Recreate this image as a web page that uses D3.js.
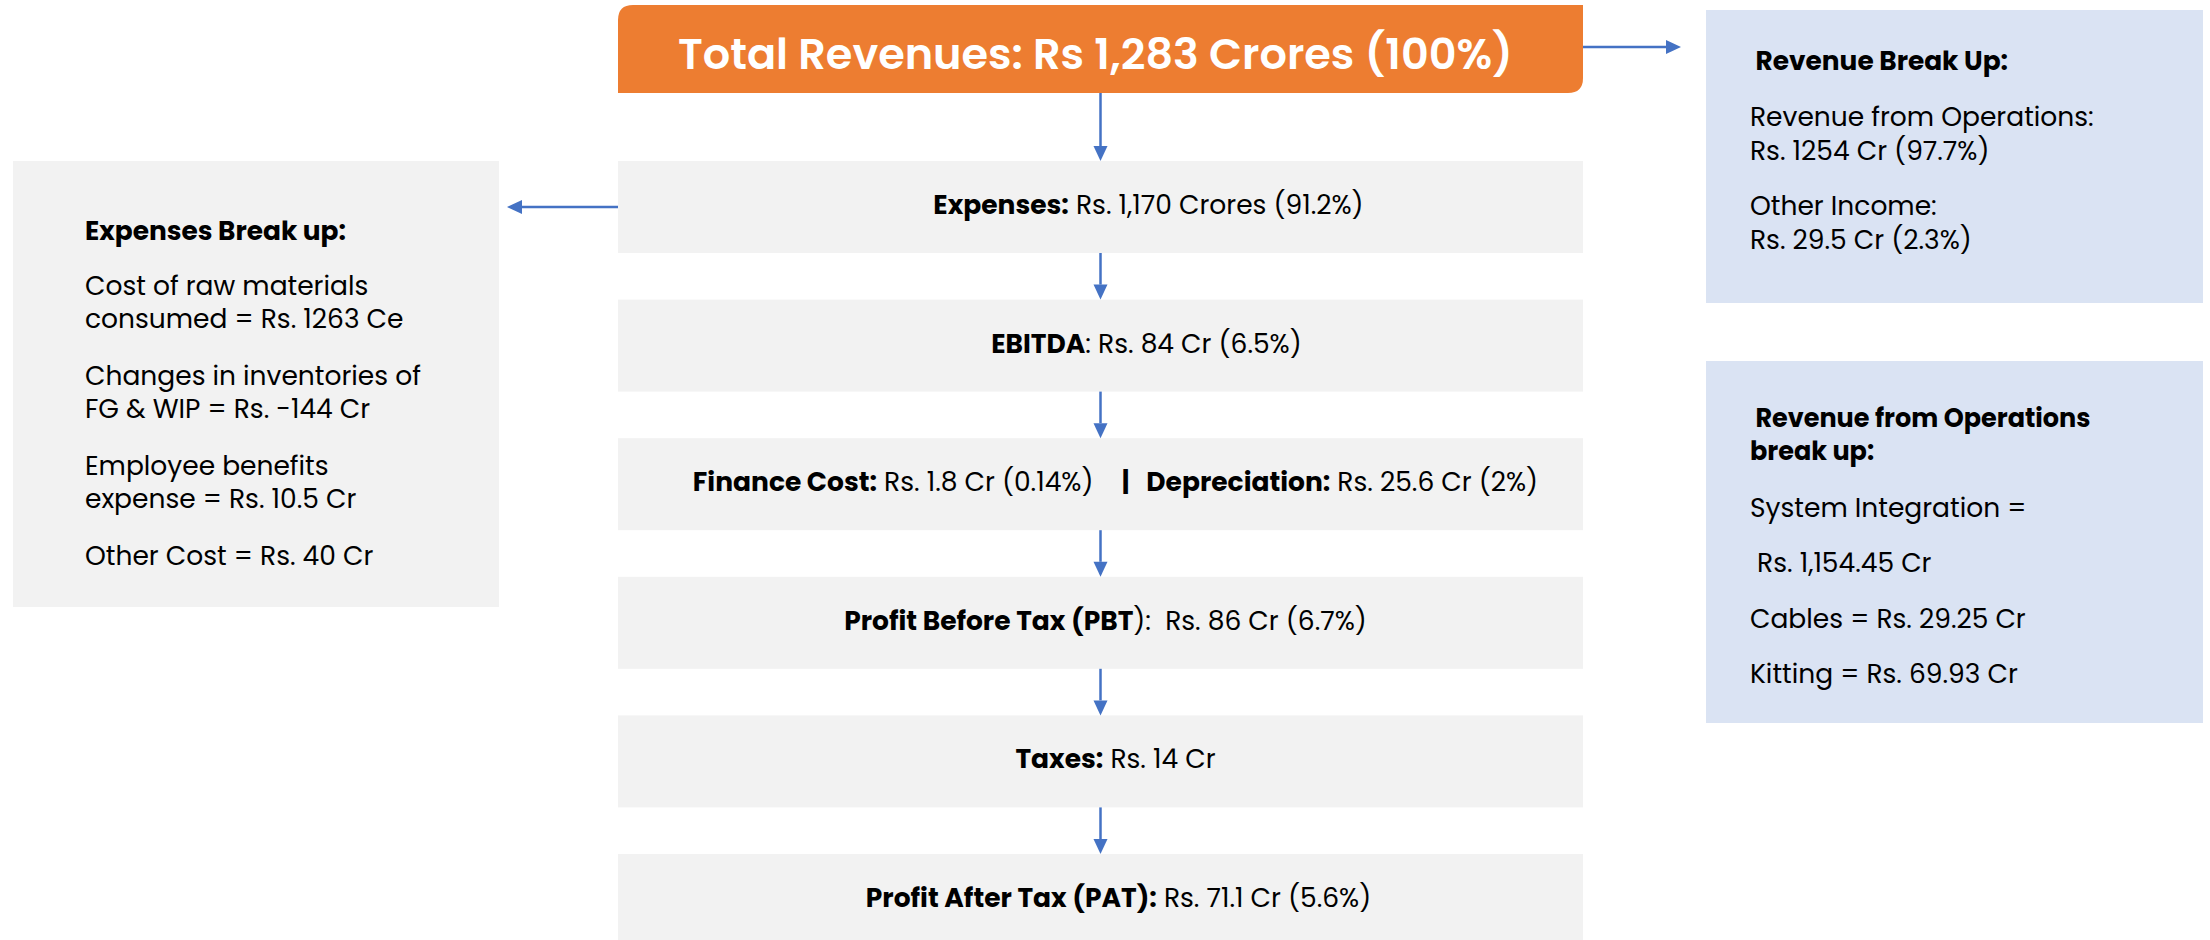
<!DOCTYPE html>
<html>
<head>
<meta charset="utf-8">
<script src="https://cdn.jsdelivr.net/npm/d3@7"></script>
<style>
  body { margin: 0; background: #fff; }
  text { font-family: Poppins, 'Open Sans', sans-serif; white-space: pre; }
</style>
</head>
<body>
<svg id="chart"></svg>
<script>
const w = 2210, h = 940;

// top box
const titleText = "Total Revenues: Rs 1,283 Crores (100%)";

// flow steps, each row is a list of [text, bold]
const flowRows = [
  [["Expenses:", true], [" Rs. 1,170 Crores (91.2%)", false]],
  [["EBITDA", true], [": Rs. 84 Cr (6.5%)", false]],
  [["Finance Cost:", true], [" Rs. 1.8 Cr (0.14%)    ", false], ["|", true], ["   Depreciation:", true], [" Rs. 25.6 Cr (2%)", false]],
  [["Profit Before Tax (PBT", true], ["):  Rs. 86 Cr (6.7%)", false]],
  [["Taxes:", true], [" Rs. 14 Cr", false]],
  [["Profit After Tax (PAT):", true], [" Rs. 71.1 Cr (5.6%)", false]]
];

// side boxes
const expenseHead = "Expenses Break up:";
const expenseItems = [
  ["Cost of raw materials", "consumed = Rs. 1263 Ce"],
  ["Changes in inventories of", "FG & WIP = Rs. -144 Cr"],
  ["Employee benefits", "expense = Rs. 10.5 Cr"],
  ["Other Cost = Rs. 40 Cr"]
];

const revenueHead = " Revenue Break Up:";
const revenueItems = [
  ["Revenue from Operations:", "Rs. 1254 Cr (97.7%)"],
  ["Other Income:", "Rs. 29.5 Cr (2.3%)"]
];

const opsHead = [" Revenue from Operations", "break up:"];
const opsItems = ["System Integration =", " Rs. 1,154.45 Cr", "Cables = Rs. 29.25 Cr", "Kitting = Rs. 69.93 Cr"];

const ORANGE = "#ED7D31", GREY = "#F2F2F2", LIGHTBLUE = "#DAE3F3", BLUE = "#4472C4";

const svg = d3.select('#chart')
  .attr('width', w)
  .attr('height', h);

// main column
const colX0 = 618, colX1 = 1583, colMid = (colX0 + colX1) / 2;
const BOX_H = 92;
const rowShift = [48, 46, 15, 5, 15, 18]; // text boxes aren't quite centred in the original

const yStep = d3.scaleLinear()
  .domain([0, flowRows.length - 1])
  .range([161, 854]);

// arrow helper (line + triangle head)
function arrow(x1, y1, x2, y2) {
  const ang = Math.atan2(y2 - y1, x2 - x1);
  const L = 15, HW = 7;
  const bx = x2 - L * Math.cos(ang), by = y2 - L * Math.sin(ang);
  svg.append('line')
    .attr('x1', x1).attr('y1', y1)
    .attr('x2', bx).attr('y2', by)
    .attr('stroke', BLUE)
    .attr('stroke-width', 2.5);
  const px = -Math.sin(ang) * HW, py = Math.cos(ang) * HW;
  svg.append('path')
    .attr('d', `M${x2},${y2}L${bx + px},${by + py}L${bx - px},${by - py}Z`)
    .attr('fill', BLUE);
}

// title box - rounded top-left & bottom-right
const tb = {x0: colX0, x1: colX1, y0: 5, y1: 93, r: 15};
svg.append('path')
  .attr('d', `M${tb.x0},${tb.y0 + tb.r} Q${tb.x0},${tb.y0} ${tb.x0 + tb.r},${tb.y0}
    L${tb.x1},${tb.y0} L${tb.x1},${tb.y1 - tb.r} Q${tb.x1},${tb.y1} ${tb.x1 - tb.r},${tb.y1}
    L${tb.x0},${tb.y1} Z`)
  .attr('fill', ORANGE);

svg.append('text')
  .attr('x', colMid - 5)
  .attr('y', 69)
  .attr('text-anchor', 'middle')
  .attr('fill', '#fff')
  .attr('font-size', 43)
  .attr('font-weight', 600)
  .text(titleText);

// flow boxes
const rows = svg.selectAll('g.row')
  .data(flowRows)
  .join('g')
  .attr('class', 'row')
  .attr('transform', (d, i) => `translate(0, ${yStep(i)})`);

rows.append('rect')
  .attr('x', colX0)
  .attr('width', colX1 - colX0)
  .attr('height', BOX_H)
  .attr('fill', GREY);

rows.append('text')
  .attr('x', (d, i) => colMid + rowShift[i])
  .attr('y', 53)
  .attr('text-anchor', 'middle')
  .attr('font-size', 26.5)
  .attr('fill', '#000')
  .selectAll('tspan')
  .data(d => d)
  .join('tspan')
  .attr('font-weight', d => d[1] ? 700 : 400)
  .text(d => d[0]);

// vertical arrows
arrow(colMid, tb.y1, colMid, yStep(0));
for (let i = 0; i < flowRows.length - 1; i++) {
  arrow(colMid, yStep(i) + BOX_H, colMid, yStep(i + 1));
}

// side arrows
arrow(colX0, 207, 507, 207);
arrow(colX1, 47, 1681, 47);

// left box: expenses break up
svg.append('rect')
  .attr('x', 13).attr('y', 161)
  .attr('width', 486).attr('height', 446)
  .attr('fill', GREY);

svg.append('text')
  .attr('x', 85).attr('y', 240)
  .attr('font-size', 26.4)
  .attr('font-weight', 700)
  .text(expenseHead);

const lineH = 33, paraGap = 57;
expenseItems.forEach((lines, i) => {
  lines.forEach((s, j) => {
    svg.append('text')
      .attr('x', 85)
      .attr('y', 295 + i * paraGap + j * lineH + i * lineH)
      .attr('font-size', 26.5)
      .text(s);
  });
});

// right box 1: revenue break up
svg.append('rect')
  .attr('x', 1706).attr('y', 10)
  .attr('width', 497).attr('height', 293)
  .attr('fill', LIGHTBLUE);

svg.append('text')
  .attr('x', 1750).attr('y', 70)
  .attr('font-size', 26.4)
  .attr('font-weight', 700)
  .text(revenueHead);

revenueItems.forEach((lines, i) => {
  lines.forEach((s, j) => {
    svg.append('text')
      .attr('x', 1750)
      .attr('y', 126 + i * 89 + j * 34)
      .attr('font-size', 26.5)
      .text(s);
  });
});

// right box 2: revenue from operations break up
svg.append('rect')
  .attr('x', 1706).attr('y', 361)
  .attr('width', 497).attr('height', 362)
  .attr('fill', LIGHTBLUE);

opsHead.forEach((s, j) => {
  svg.append('text')
    .attr('x', 1750).attr('y', 427 + j * 33)
    .attr('font-size', 25.5)
    .attr('font-weight', 700)
    .text(s);
});

opsItems.forEach((s, i) => {
  svg.append('text')
    .attr('x', 1750)
    .attr('y', 517 + i * 55.3)
    .attr('font-size', 26.5)
    .text(s);
});
</script>
</body>
</html>
